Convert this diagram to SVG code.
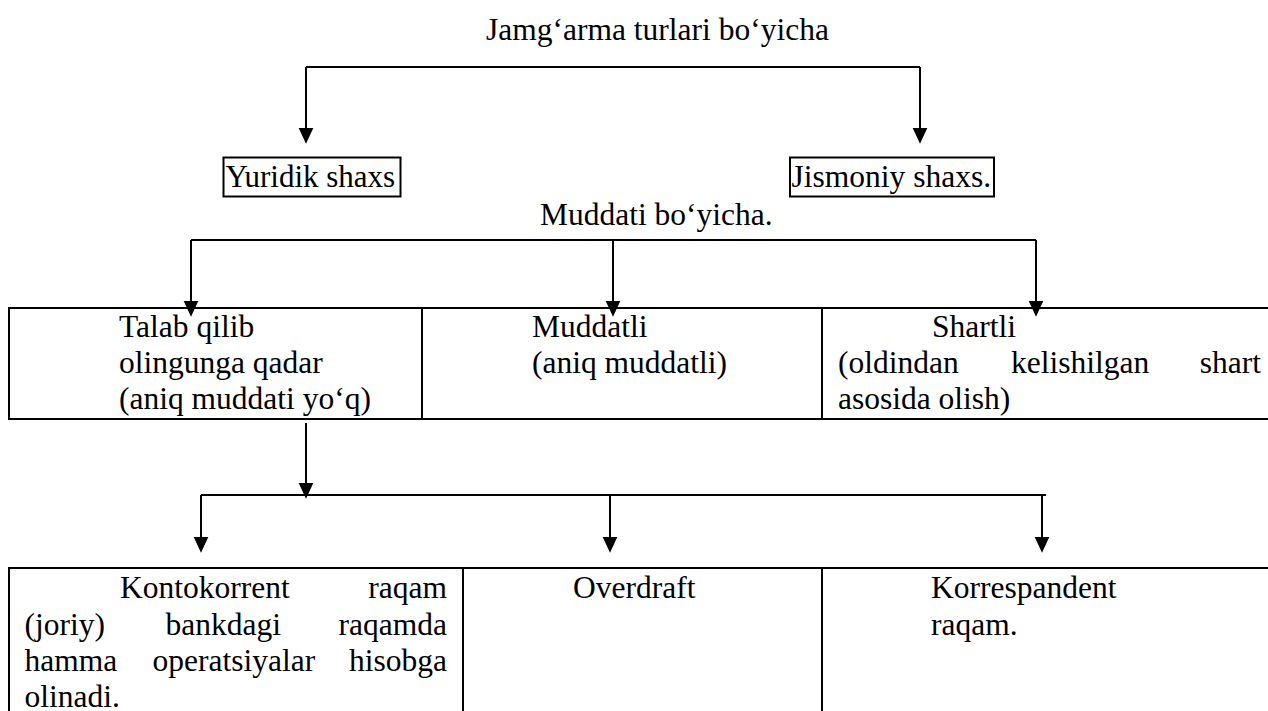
<svg xmlns="http://www.w3.org/2000/svg" width="1268" height="711" viewBox="0 0 1268 711">
<style>
text{font-family:"Liberation Serif","Times New Roman",serif;font-size:31.5px;fill:#000}
.box{fill:none;stroke:#000;stroke-width:2}
.conn{fill:none;stroke:#000;stroke-width:2}
.e{text-anchor:end}
.m{text-anchor:middle}
</style>
<defs>
<marker id="ah" markerUnits="userSpaceOnUse" markerWidth="16" markerHeight="16" refX="5" refY="7" orient="auto" viewBox="0 0 15 14">
<path d="M0,0 L15,7 L0,14 z" fill="#000"/>
</marker>
</defs>
<rect width="1268" height="711" fill="#fff"/>

<g id="title"><text x="657.5" y="40" class="m">Jamg‘arma turlari bo‘yicha</text></g>

<g id="yuridik">
<rect class="box" x="223.5" y="157.5" width="177" height="39"/>
<text x="225.5" y="187" style="font-size:31px">Yuridik shaxs</text>
</g>
<g id="jismoniy">
<rect class="box" x="790" y="157.5" width="204" height="39"/>
<text x="791.5" y="187">Jismoniy shaxs.</text>
</g>

<g id="muddati-label"><text x="540" y="225">Muddati bo‘yicha.</text></g>

<g id="talab">
<rect class="box" x="9" y="308" width="413" height="111"/>
<text x="119" y="337">Talab qilib</text>
<text x="119" y="373">olingunga qadar</text>
<text x="119" y="409">(aniq muddati yo‘q)</text>
</g>
<g id="muddatli">
<rect class="box" x="422" y="308" width="400" height="111"/>
<text x="532" y="337">Muddatli</text>
<text x="532" y="373">(aniq muddatli)</text>
</g>
<g id="shartli">
<rect class="box" x="822" y="308" width="460" height="111"/>
<text x="932" y="337">Shartli</text>
<text x="838" y="373">(oldindan</text>
<text x="1011" y="373">kelishilgan</text>
<text x="1261" y="373" class="e">shart</text>
<text x="838" y="409">asosida olish)</text>
</g>

<g id="kontokorrent">
<rect class="box" x="9" y="568" width="454" height="160"/>
<text x="120" y="597.5">Kontokorrent</text>
<text x="447" y="597.5" class="e">raqam</text>
<text x="24.5" y="634.5">(joriy)</text>
<text x="165.5" y="634.5">bankdagi</text>
<text x="447" y="634.5" class="e">raqamda</text>
<text x="24.5" y="671">hamma</text>
<text x="152.5" y="671">operatsiyalar</text>
<text x="447" y="671" class="e">hisobga</text>
<text x="24.5" y="707">olinadi.</text>
</g>
<g id="overdraft">
<rect class="box" x="463" y="568" width="359" height="160"/>
<text x="573" y="597.5">Overdraft</text>
</g>
<g id="korrespondent">
<rect class="box" x="822" y="568" width="460" height="160"/>
<text x="931" y="597.5">Korrespandent</text>
<text x="931" y="634.5">raqam.</text>
</g>

<g id="connectors">
<path class="conn" d="M306,67 H920"/>
<path class="conn" d="M306,67 V133" marker-end="url(#ah)"/>
<path class="conn" d="M920,67 V133" marker-end="url(#ah)"/>
<path class="conn" d="M191,240 H1036"/>
<path class="conn" d="M191,240 V306" marker-end="url(#ah)"/>
<path class="conn" d="M613,240 V306" marker-end="url(#ah)"/>
<path class="conn" d="M1036,240 V306" marker-end="url(#ah)"/>
<path class="conn" d="M306,423 V488" marker-end="url(#ah)"/>
<path class="conn" d="M201,495 H1046"/>
<path class="conn" d="M201,495 V542" marker-end="url(#ah)"/>
<path class="conn" d="M610,495 V542" marker-end="url(#ah)"/>
<path class="conn" d="M1042,495 V542" marker-end="url(#ah)"/>
</g>
</svg>
